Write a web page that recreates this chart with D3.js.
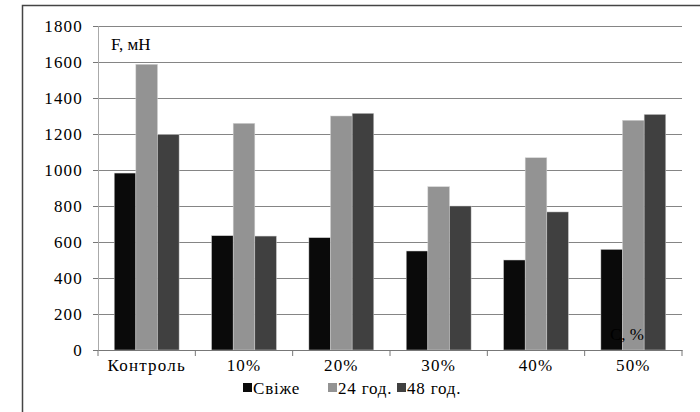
<!DOCTYPE html>
<html>
<head>
<meta charset="utf-8">
<script src="https://cdn.jsdelivr.net/npm/d3@7"></script>
<style>
  body { margin: 0; background: #fff; }
</style>
</head>
<body>
<div id="chart"></div>
<script>
const categories = ["Контроль", "10%", "20%", "30%", "40%", "50%"];
const seriesNames = ["Свіже", "24 год.", "48 год."];
const fresh = [983, 635, 624, 550, 500, 559];
const h24 = [1587, 1259, 1300, 907, 1068, 1276];
const h48 = [1196, 633, 1315, 800, 767, 1309];
const yTicks = [0, 200, 400, 600, 800, 1000, 1200, 1400, 1600, 1800];
const colors = ["#0a0a0a", "#939393", "#404040"];

const series = [fresh, h24, h48];
const serif = '"Liberation Serif", Tinos, "Times New Roman", FreeSerif';

function textStyle(sel) {
    sel.attr("font-family", null)
       .style("font-family", serif)
       .style("font-size", "17px")
       .attr("fill", "#000");
}

const svg = d3.select("#chart").append("svg")
    .attr("width", 700)
    .attr("height", 412)
    .style("font-family", serif);

// outer frame
svg.append("rect")
    .attr("x", 22.5).attr("y", 5.5)
    .attr("width", 700).attr("height", 420)
    .attr("fill", "none")
    .attr("stroke", "#444")
    .attr("stroke-width", 1.5);

const plotL = 98, plotR = 682, plotT = 26, plotB = 350;

const x = d3.scaleBand().domain(categories).range([plotL, plotR]);
const y = d3.scaleLinear().domain([0, 1800]).range([plotB, plotT]);

// gridlines
svg.append("g")
    .selectAll("line")
    .data(yTicks.filter(d => d > 0))
    .join("line")
    .attr("x1", plotL - 5).attr("x2", plotR)
    .attr("y1", d => y(d) + 0.5).attr("y2", d => y(d) + 0.5)
    .attr("stroke", "#858585")
    .attr("stroke-width", 1.2);

// bars
const barW = x.bandwidth() / 4.5;
const inner = d3.scaleBand().domain(d3.range(3)).range([0, barW * 3]);

series.forEach((vals, si) => {
    svg.append("g")
        .selectAll("rect")
        .data(vals)
        .join("rect")
        .attr("x", (d, i) => x(categories[i]) + barW * 0.75 + inner(si))
        .attr("y", d => y(d))
        .attr("width", barW)
        .attr("height", d => y(0) - y(d))
        .attr("fill", colors[si])
        .attr("stroke", "#d0d0d0")
        .attr("stroke-width", 0.5);
});

// y axis
const yAxis = svg.append("g")
    .attr("transform", `translate(${plotL},0)`)
    .call(d3.axisLeft(y).tickValues(yTicks).tickFormat(d3.format("d")).tickSize(5).tickPadding(10));
yAxis.attr("font-family", null);
yAxis.select(".domain").attr("stroke", "#aaa");
yAxis.selectAll(".tick line").attr("stroke", "#777");
yAxis.selectAll("text").call(textStyle).style("letter-spacing", "1.2px");

// x axis
const xAxis = svg.append("g")
    .attr("transform", `translate(0,${plotB})`)
    .call(d3.axisBottom(x).tickSize(0).tickPadding(9));
xAxis.attr("font-family", null);
xAxis.select(".domain").attr("stroke", "#777");
xAxis.selectAll("text").call(textStyle).style("letter-spacing", "1.2px");
svg.append("g")
    .selectAll("line")
    .data(d3.range(categories.length + 1))
    .join("line")
    .attr("x1", i => plotL + i * x.step()).attr("x2", i => plotL + i * x.step())
    .attr("y1", plotB).attr("y2", plotB + 6)
    .attr("stroke", "#777");

// axis unit labels
svg.append("text")
    .attr("x", 111).attr("y", 50)
    .call(textStyle)
    .text("F, мН");
svg.append("text")
    .attr("x", 610).attr("y", 340)
    .call(textStyle)
    .text("C, %");

// legend
const legendX = [243, 328, 397];
const legend = svg.append("g");
seriesNames.forEach((name, i) => {
    legend.append("rect")
        .attr("x", legendX[i]).attr("y", 383)
        .attr("width", 9).attr("height", 9)
        .attr("fill", colors[i]);
    legend.append("text")
        .attr("x", legendX[i] + 10).attr("y", 394)
        .call(textStyle)
        .style("letter-spacing", "0.8px")
        .text(name);
});
</script>
</body>
</html>
